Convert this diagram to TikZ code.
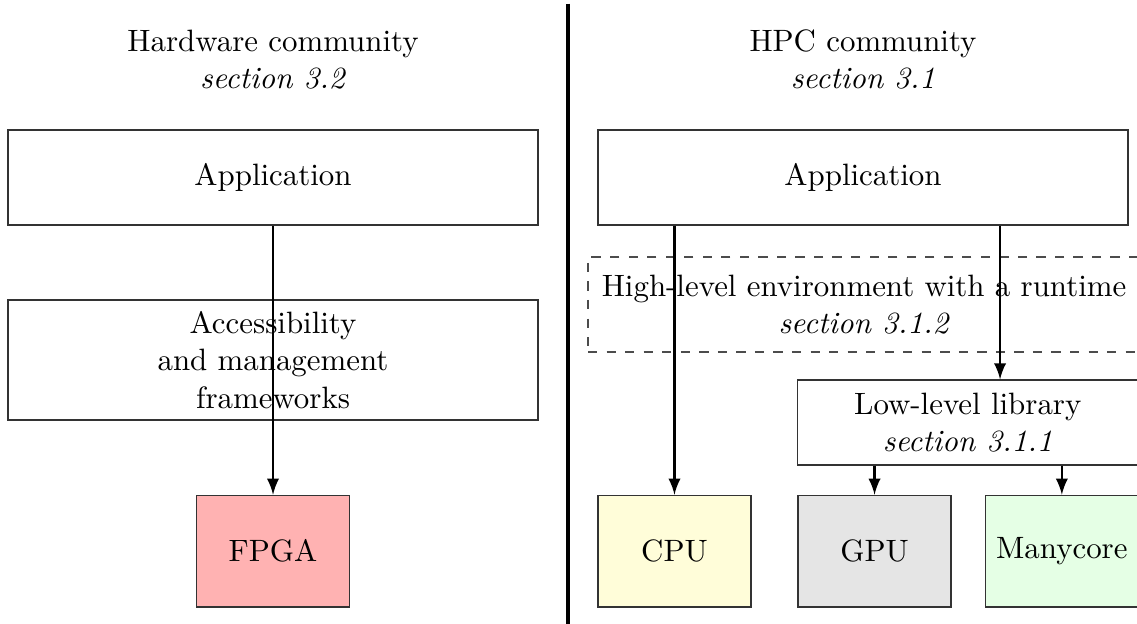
\documentclass[tikz,border=0pt]{standalone}
\usepackage{tikz}
\usetikzlibrary{arrows}

\tikzset{
  kasten/.style={draw=black!80, thin, align=center, inner sep=2pt},
  breit/.style={kasten, minimum width=6.03cm, minimum height=1.08cm},
  chip/.style={kasten, minimum width=1.74cm, minimum height=1.27cm},
}

\begin{document}
\begin{tikzpicture}[scale=1, >=latex]
\useasboundingbox (0,0) rectangle (12.935,-7.088);
% trennlinie
\draw [very thick] (6.462,-0.04) -- (6.462,-7.2);
\begin{scope}
  \node [align=center,name=hwtitel] at (3.106,-0.68) {Hardware community\\\textit{section 3.2}};
  \node [breit,name=hwapp] at (3.106,-2.019) {Application};
  \node [kasten,minimum width=6.03cm,minimum height=1.365cm,name=access] at (3.106,-4.096) {Accessibility\\and management\\frameworks};
  \node [chip,fill=red!30,name=fpga] at (3.106,-6.27) {FPGA};
  \draw [->,thick](hwapp.south) -- (fpga.north);
\end{scope}
\begin{scope}
  \node [align=center,name=hpctitel] at (9.818,-0.68) {HPC community\\\textit{section 3.1}};
  \node [breit,name=hpcapp] at (9.818,-2.019) {Application};
  \node [kasten,dashed,draw=black!70,minimum width=6.28cm,minimum height=1.08cm,name=highlevel] at (9.83,-3.464) {High-level environment with a runtime\\\textit{section 3.1.2}};
  \node [kasten,minimum width=3.88cm,minimum height=0.967cm,name=lowlevel] at (11.01,-4.807) {Low-level library\\\textit{section 3.1.1}};
  \node [chip,fill=yellow!15,name=cpu] at (7.673,-6.27) {CPU};
  \node [chip,fill=black!10,name=gpu] at (9.949,-6.27) {GPU};
  \node [chip,fill=green!10,name=many] at (12.08,-6.27) {Manycore};
  \coordinate (abzweig) at (11.377,0);
  \draw [->,thick](cpu.north |- hpcapp.south) -- (cpu.north);
  \draw [->,thick](abzweig |- hpcapp.south) -- (abzweig |- lowlevel.north);
  \draw [->,thick](gpu.north |- lowlevel.south) -- (gpu.north);
  \draw [->,thick](many.north |- lowlevel.south) -- (many.north);
\end{scope}
\end{tikzpicture}
\end{document}
